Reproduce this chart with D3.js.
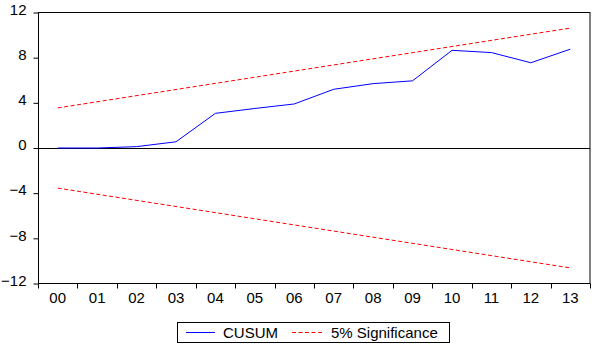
<!DOCTYPE html>
<html>
<head>
<meta charset="utf-8">
<script src="https://cdn.jsdelivr.net/npm/d3@7"></script>
<style>
  body { margin: 0; background: #fff; }
  svg { display: block; font-family: "Liberation Sans", Arial, sans-serif; }
</style>
</head>
<body>
<svg id="chart" width="597" height="350"></svg>
<script>
// chart data
const years = ["00", "01", "02", "03", "04", "05", "06", "07", "08", "09", "10", "11", "12", "13"];
const cusum = [0, 0, 0.12, 0.55, 3.07, 3.5, 3.9, 5.2, 5.7, 5.95, 8.65, 8.45, 7.55, 8.75];
const upperYears = ["00", "13"];
const upperBand = [3.55, 10.62];
const lowerBand = [-3.55, -10.62];
const yTicks = [-12, -8, -4, 0, 4, 8, 12];

const svg = d3.select("#chart");
const margin = { top: 12.5, right: 7, bottom: 66.5, left: 38 };
const W = 597, H = 350;

const x = d3.scaleBand().domain(years).range([margin.left, W - margin.right]).padding(0);
const y = d3.scaleLinear().domain([-12, 12]).range([H - margin.bottom, margin.top]);
const cx = d => x(d) + x.bandwidth() / 2;

// frame
svg.append("rect")
  .attr("x", margin.left + 0.5).attr("y", margin.top)
  .attr("width", W - margin.right - margin.left - 0.5)
  .attr("height", H - margin.bottom - margin.top)
  .attr("fill", "none").attr("stroke", "#000").attr("stroke-width", 1);

// zero line
svg.append("line")
  .attr("x1", margin.left).attr("x2", W - margin.right)
  .attr("y1", Math.round(y(0)) + 0.5).attr("y2", Math.round(y(0)) + 0.5)
  .attr("stroke", "#000");

// y axis
const yAxis = svg.append("g")
  .attr("transform", `translate(${margin.left + 0.5},0)`)
  .call(d3.axisLeft(y).tickValues(yTicks).tickSize(5).tickPadding(7).tickFormat(d3.format("d")));
yAxis.select(".domain").remove();
yAxis.selectAll("text").attr("font-size", 15).attr("fill", "#000").attr("dy", "0.12em");
yAxis.selectAll("line").attr("stroke", "#000");

// x axis: ticks at band edges, labels at band centres
const xb = svg.append("g").attr("transform", `translate(0,${H - margin.bottom})`);
const edges = years.map(d => x(d)).concat([W - margin.right]);
xb.selectAll("line").data(edges).join("line")
  .attr("x1", d => Math.round(d) + 0.5).attr("x2", d => Math.round(d) + 0.5)
  .attr("y1", 0).attr("y2", 5).attr("stroke", "#000");
xb.selectAll("text").data(years).join("text")
  .attr("x", d => cx(d)).attr("y", 19)
  .attr("text-anchor", "middle").attr("font-size", 15).attr("fill", "#000")
  .text(d => d);

// significance bounds
const line = d3.line().x(d => cx(d[0])).y(d => y(d[1]));
[upperBand, lowerBand].forEach(band => {
  svg.append("path")
    .datum(upperYears.map((d, i) => [d, band[i]]))
    .attr("d", line)
    .attr("fill", "none").attr("stroke", "#ff0000").attr("stroke-width", 1)
    .attr("stroke-dasharray", "4,2.5");
});

// CUSUM line
svg.append("path")
  .datum(years.map((d, i) => [d, cusum[i]]))
  .attr("d", line)
  .attr("fill", "none").attr("stroke", "#0000ff").attr("stroke-width", 1);

// legend
const lg = svg.append("g");
lg.append("rect").attr("x", 177.5).attr("y", 322.5).attr("width", 272).attr("height", 20)
  .attr("fill", "#fff").attr("stroke", "#000");
lg.append("line").attr("x1", 186).attr("x2", 215).attr("y1", 332.5).attr("y2", 332.5)
  .attr("stroke", "#0000ff");
lg.append("text").attr("x", 223).attr("y", 338).attr("font-size", 15).attr("fill", "#000").text("CUSUM");
lg.append("line").attr("x1", 292).attr("x2", 323).attr("y1", 332.5).attr("y2", 332.5)
  .attr("stroke", "#ff0000").attr("stroke-dasharray", "4,2.5");
lg.append("text").attr("x", 331).attr("y", 338).attr("font-size", 15).attr("fill", "#000").text("5% Significance");
</script>
</body>
</html>
